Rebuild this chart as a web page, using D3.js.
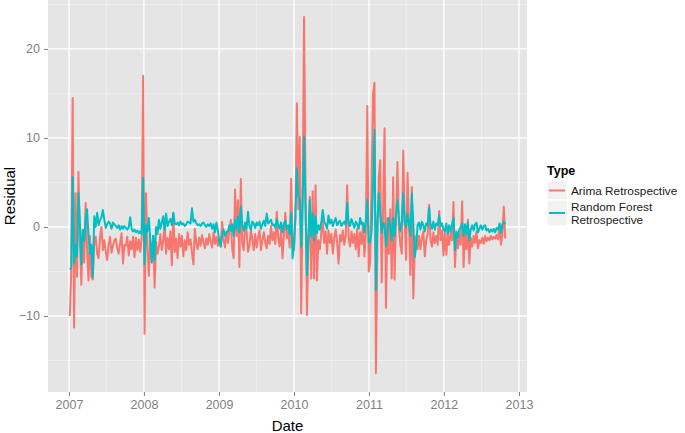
<!DOCTYPE html>
<html>
<head>
<meta charset="utf-8">
<script src="https://cdn.jsdelivr.net/npm/d3@7"></script>
<style>
  body { margin: 0; background: #fff; }
  svg { display: block; font-family: "Liberation Sans", Arial, sans-serif; }
</style>
</head>
<body>
<div id="chart-area"></div>
<script>
// weekly residuals, one array per calendar year (first week: 2007-01-05)
var arima2007 = [-10, -5, 14.5, -11.3, 3.8, -5.6, 6.2, -1, -6.5, -0.7, -4, 2.7, -2.5, -6, -1, -5.6,
    -5.9, -1.5, -1.1, -3, -3.5, -1.2, 0, -2.6, -1.5, -2.8, -3.7, -2, -1.1, -2.9, -2.1, -1.5,
    -1.3, -2.4, -3, -1.8, -0.7, -4.1, -2, -2.1, -1.1, -3.2, -1.6, -2.5, -1.1, -3.4, -1.2, -2.6,
    -1.4, -2.8, -1.3, 17];
var rf2007 = [-4.8, -4.6, 5.6, -4.1, -2, -3.3, 3.8, 0.5, -4.2, -0.3, -1.5, 1, 2, -1, -3, -2,
    -5.6, 1.2, 0, 1.6, 0.2, 0.8, 1.1, 1.9, 0.8, -0.1, 0.3, 0.6, 0.4, -0.2, 0.5, 0.3,
    0.1, -0.1, 0.2, -0.3, 0.1, -0.2, 0.1, -0.1, -0.3, 0, 1.1, -0.2, -0.5, -0.3, -0.6, -0.4,
    -0.7, -0.5, -0.8, 5.5];

var arima2008 = [-12, 3.8, -2, -5.5, -1.5, -3.7, -1, -6.8, -1.7, -3, -2.2, -0.8, -2.6, -1.5, 0.3, -3,
    -1.2, -2.5, -0.5, -4.3, 1.5, -2.8, -1.3, -3.5, -0.8, -2.2, -1, -3.3, -1.5, -2.6, -0.6, -2,
    -1.4, -2.9, -4.2, -0.2, -1.8, -2.5, -1.2, -2.1, -0.9, -1.7, -2.4, -1.3, -2, -0.8, -1.6, -2.3,
    -0.6, -1.9, -1.1, -2.1];
var rf2008 = [-4.2, 0.2, -0.5, 1, -1.5, -4, -1, -3.7, 0, -0.8, 0.8, -0.2, 0.5, 1.2, -0.3, 1.5,
    0.1, 0.6, 0.9, 0.2, 1.6, 0.4, 0.3, 0.5, 0.2, 0.6, 0.3, 0.4, 0.1, 0.3, 0.6, 0.5,
    0.4, 2.1, 0.6, 0.8, 0.4, 0.2, 0.3, 0.1, 0.4, 0.5, 0.2, 0, 0.3, 0.1, 0.4, -0.2,
    0.3, -0.6, 0.5, -0.4];

var arima2009 = [-1.2, -2.2, 0.6, -1.5, -2.3, -0.5, -1.8, -0.4, 0.8, -2.5, -3.5, 4.2, -1, 3, -4.5, 5.4,
    -1.8, -2.6, 0.2, -0.5, -2.8, -2.1, -0.3, -1.4, -2.6, -0.8, -2.3, -1.2, -0.4, -2.6, -1.5, -0.6,
    -1.8, -2.4, -1, -1.9, 0.1, -1.5, -0.6, -1.9, 1.7, -1.2, -2.2, -0.3, -3.5, -0.9, 1.6, -1.3,
    -0.5, -2.3, 5.4, -1.8];
var rf2009 = [-1.5, -2.2, -0.8, -0.3, -1, -0.6, -0.5, 0.2, -0.4, 0.3, -1, 0.8, -0.2, 1.2, -0.6, 2.3,
    0.2, -0.4, 0.5, -0.2, 1.7, 0.1, -0.3, 0.6, 0.4, -0.1, 0.5, 0.2, 0.6, -0.2, 0.3, 0.7,
    0.1, 1.5, 0.4, 0.6, 0.8, 0.2, 0.3, -0.1, 0.9, 0.3, -0.2, 0.5, -0.6, 0.4, 0.7, -0.3,
    0.2, -0.8, 1.6, -3.5];

var arima2010 = [-2.6, 1, 13.9, 2, 10.1, -9.7, 3, 23.6, 5, -9.9, -2, 3.4, -5.8, 4, -5.8, 4.7,
    -6, -1.5, -2.5, -0.6, 0.8, -1.8, -0.5, -3, -0.4, -1.8, -0.8, -3, -1.2, -0.3, -1.8, -4.1,
    -0.9, -1.6, -0.4, -2, -1, 4.7, -1.3, -2.2, -0.5, -1.8, -0.8, -2.5, -0.2, -3.3, -0.6, -1.9,
    0.3, -3.3, -0.5, 13.6, -5];
var rf2010 = [-2.1, 1.5, 6.6, 3.5, 3, -2.2, 3, 10.1, 2, -5.4, -1, 3, -1, 1.5, -1.5, 1.2,
    -0.7, 0.2, -0.3, 0.5, 1.9, 0.6, 0.3, -0.2, 1.3, 0.4, 0.8, 0.1, 0.6, 1, 0.2, 0.5,
    0.7, 0.1, 0.4, 0.6, 0.2, 2.7, 0.5, 0.1, 0.9, 0.4, -0.1, 0.6, 0.3, -0.2, 1, 0.3,
    0.5, -0.6, 0.7, 3.1, -1.7];

var arima2011 = [-4, 5, 15, 16.2, -16.4, -2, 5.6, 7.5, -6.2, 2, 11.1, -9.1, 1, -3, 2, -5.8,
    5.6, -5.9, 1, 7.3, 0, -2, -3, 8.6, 1, -3.7, 6.1, 0.5, -5.4, 4.5, -8, -2.5,
    -1, -2.5, -1, -2.5, -1.2, -0.5, -3.3, -1.5, -0.8, 2.5, -1.5, -2.2, -0.6, -1.8, -1, -2,
    1.8, -1.5, -0.4, -3.2];
var rf2011 = [-1.7, -0.5, 4.5, 10.9, -7.1, 0.5, 3.8, 1.5, -0.7, 0.5, 0.3, -2.2, -0.5, 1, 0, -1.5,
    1, -1, 1.5, 3, 1, -0.5, 0.5, 3.8, 0.5, 0, 1.5, 0.5, -1, 3.8, 0.5, -3.4,
    -2.2, 0.2, 0.5, -0.3, 0.6, 0.2, -0.5, 0.4, 0.2, 2.2, 0.3, -0.2, 0.6, -0.3, 0.4, 0.2,
    1.3, 0.1, 0.4, -0.3];

var arima2012 = [-0.5, -3.1, -0.8, -2, -0.5, -1.5, 2.8, -4.5, -1, -2.4, -0.8, -2, 2.9, -4.5, -0.5, -2.5,
    0.8, -4.1, -1.2, -2.2, -1, -1.8, -0.5, -2.4, -1.5, -1.8, -1.2, -1.9, -1, -1.6, -1.2, -1.5,
    -1, -1.4, -1.1, -1.3, -0.9, -1.4, 0.3, -2, -0.8, 2.3, -1.3];
var rf2012 = [-0.5, 0.4, -0.8, 0.2, -0.5, 0.3, 1, -2.6, -0.5, -1.2, -0.3, 0, 0.4, -1, 0.3, -0.8,
    0.5, -1.5, -0.3, 0.2, -0.4, 0.3, 0.5, -0.6, -0.2, 0.2, -0.3, 0.1, 0.2, -0.4, -0.2, -0.6,
    -0.3, -0.5, -0.2, -0.6, -0.1, -0.3, 0.4, -0.7, 0.3, 0.6, 0.3];

var yTicks = [-10, 0, 10, 20];
var yMinor = [-15, -5, 5, 15, 25];
var years = [2007, 2008, 2009, 2010, 2011, 2012, 2013];

var seriesNames = ["Arima Retrospective", "Random Forest Retrospective"];
var colors = ["#F8766D", "#00BFC4"];

var arima = [].concat(arima2007, arima2008, arima2009, arima2010, arima2011, arima2012);
var rf = [].concat(rf2007, rf2008, rf2009, rf2010, rf2011, rf2012);

var dates = arima.map(function(d, i) { return new Date(2007, 0, 5 + 7 * i); });

var margin = { left: 48, right: 158, top: 0, bottom: 41 };
var width = 685 - margin.left - margin.right,
    height = 433 - margin.top - margin.bottom;

var svg = d3.select("#chart-area")
    .append("svg")
        .attr("width", 685)
        .attr("height", 433);

var g = svg.append("g")
    .attr("transform", "translate(" + margin.left + ", " + margin.top + ")");

// X Scale (years)
var yearPx = 75;
var x = d3.scaleTime()
    .domain([new Date(2007, 0, 1), new Date(2013, 0, 1)])
    .range([21, 21 + 6 * yearPx]);

// Y Scale
var y = d3.scaleLinear()
    .domain([-18.54, 25.5])
    .range([height, 0]);

// panel
g.append("rect")
    .attr("width", width)
    .attr("height", height)
    .attr("fill", "#E5E5E5");

// minor grid
g.selectAll(".yminor")
    .data(yMinor)
    .enter().append("line")
        .attr("x1", 0).attr("x2", width)
        .attr("y1", function(d) { return y(d); })
        .attr("y2", function(d) { return y(d); })
        .attr("stroke", "#F2F2F2")
        .attr("stroke-width", 0.7);

g.selectAll(".xminor")
    .data(years.slice(0, -1))
    .enter().append("line")
        .attr("x1", function(d) { return x(new Date(d, 6, 2)); })
        .attr("x2", function(d) { return x(new Date(d, 6, 2)); })
        .attr("y1", 0).attr("y2", height)
        .attr("stroke", "#F2F2F2")
        .attr("stroke-width", 0.7);

// major grid
g.selectAll(".ymajor")
    .data(yTicks)
    .enter().append("line")
        .attr("x1", 0).attr("x2", width)
        .attr("y1", function(d) { return y(d); })
        .attr("y2", function(d) { return y(d); })
        .attr("stroke", "#fff")
        .attr("stroke-width", 1.3);

g.selectAll(".xmajor")
    .data(years)
    .enter().append("line")
        .attr("x1", function(d) { return x(new Date(d, 0, 1)); })
        .attr("x2", function(d) { return x(new Date(d, 0, 1)); })
        .attr("y1", 0).attr("y2", height)
        .attr("stroke", "#fff")
        .attr("stroke-width", 1.3);

// lines
var line = d3.line()
    .x(function(d, i) { return x(dates[i]); })
    .y(function(d) { return y(d); });

[arima, rf].forEach(function(s, k) {
    g.append("path")
        .datum(s)
        .attr("fill", "none")
        .attr("stroke", colors[k])
        .attr("stroke-width", 2)
        .attr("stroke-linejoin", "round")
        .attr("d", line);
});

// X Axis
var xAxisCall = d3.axisBottom(x)
    .tickValues(years.map(function(d) { return new Date(d, 0, 1); }))
    .tickFormat(d3.timeFormat("%Y"))
    .tickSize(4)
    .tickPadding(4);

var xAxis = g.append("g")
    .attr("transform", "translate(0," + height + ")")
    .call(xAxisCall);

// Y Axis
var yAxisCall = d3.axisLeft(y)
    .tickValues(yTicks)
    .tickFormat(function(d) { return d < 0 ? "\u2212" + (-d) : d; })
    .tickSize(4)
    .tickPadding(4);

var yAxis = g.append("g").call(yAxisCall);

[xAxis, yAxis].forEach(function(a) {
    a.select(".domain").remove();
    a.selectAll(".tick line").attr("stroke", "#7F7F7F");
    a.selectAll(".tick text")
        .attr("fill", "#7F7F7F")
        .attr("font-size", "12.5px")
        .attr("font-family", "Liberation Sans, Arial, sans-serif");
});

// X Label
svg.append("text")
    .attr("x", margin.left + width / 2)
    .attr("y", 431)
    .attr("font-size", "15px")
    .attr("text-anchor", "middle")
    .text("Date");

// Y Label
svg.append("text")
    .attr("x", -(margin.top + height / 2))
    .attr("y", 15)
    .attr("font-size", "15px")
    .attr("text-anchor", "middle")
    .attr("transform", "rotate(-90)")
    .text("Residual");

// Legend
var legend = svg.append("g")
    .attr("transform", "translate(547, 0)");

legend.append("text")
    .attr("x", 0)
    .attr("y", 175)
    .attr("font-size", "12.5px")
    .attr("font-weight", "bold")
    .text("Type");

var keys = [{ y: 181, h: 19, lines: ["Arima Retrospective"] },
            { y: 200, h: 26, lines: ["Random Forest", "Retrospective"] }];

keys.forEach(function(k, i) {
    legend.append("rect")
        .attr("x", 0).attr("y", k.y)
        .attr("width", 20).attr("height", k.h)
        .attr("fill", "#F2F2F2")
        .attr("stroke", "#fff")
        .attr("stroke-width", 1);
    legend.append("line")
        .attr("x1", 2).attr("x2", 18)
        .attr("y1", k.y + k.h / 2).attr("y2", k.y + k.h / 2)
        .attr("stroke", colors[i])
        .attr("stroke-width", 2);
    var lh = 13;
    var y0 = k.y + k.h / 2 + 4.2 - (k.lines.length - 1) * lh / 2;
    k.lines.forEach(function(s, j) {
        legend.append("text")
            .attr("x", 24)
            .attr("y", y0 + j * lh)
            .attr("font-size", "11.8px")
            .attr("fill", "#1a1a1a")
            .text(s);
    });
});
</script>
</body>
</html>
